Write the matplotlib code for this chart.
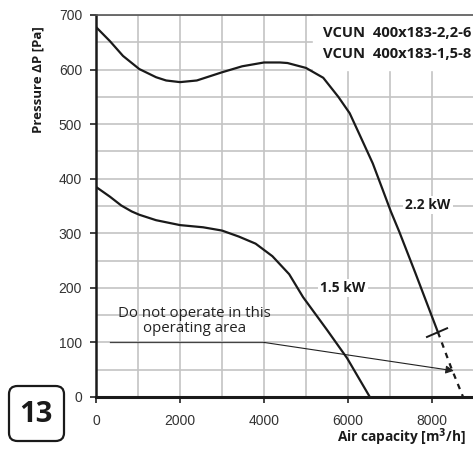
import numpy as np
import matplotlib
matplotlib.use("Agg")
from matplotlib import pyplot as plt
from matplotlib.patches import FancyBboxPatch

# curve 2.2 kW
q22 = [0, 333, 643, 1030, 1430, 1670, 2000, 2400, 3000, 3480, 4000, 4380, 4560,
       5000, 5410, 5770, 6040, 6280, 6590, 6830, 7020, 7220, 7600, 8140]
p22 = [678, 652, 625, 601, 586, 580, 577, 580, 595, 606, 613, 613, 612,
       603, 585, 550, 520, 480, 428, 379, 340, 303, 228, 119]
q22_dash = [8140, 8450, 8740]
p22_dash = [119, 55, 0]

# curve 1.5 kW
q15 = [0, 333, 600, 850, 1030, 1430, 2000, 2550, 3000, 3400, 3800, 4200, 4600, 4930,
       5500, 5980, 6520]
p15 = [385, 367, 351, 340, 334, 324, 315, 311, 305, 294, 281, 258, 225, 183,
       123, 71, 0]

# "do not operate" arrow
arrow_q = [330, 4000, 8520]
arrow_p = [100, 100, 48]

# cross on 2.2 kW curve
cross_q = [7880, 8360]
cross_p = [110, 126]

xticks = [0, 2000, 4000, 6000, 8000]
yticks = [0, 100, 200, 300, 400, 500, 600, 700]
models = ["VCUN  400x183-2,2-6", "VCUN  400x183-1,5-8"]

fig = plt.figure(figsize=(4.73, 4.49), dpi=100)
ax = fig.add_axes([96/473, 1-397/449, 378/473, 382/449])

ax.set_xlim(0, 9000)
ax.set_ylim(0, 700)
ax.set_xticks(np.arange(0, 9001, 1000), minor=True)
ax.set_yticks(np.arange(0, 701, 50), minor=True)
ax.set_xticks(xticks)
ax.set_yticks(yticks)
ax.grid(which="both", color="#c4c4c4", lw=1.2, zorder=0)
ax.set_axisbelow(True)

for lab in ax.get_xticklabels() + ax.get_yticklabels():
    lab.set_family("Liberation Sans")
    lab.set_fontsize(10)
    lab.set_color("#333333")
ax.tick_params(which="major", length=4, width=1.2, color="#222222", pad=6)
ax.tick_params(which="minor", length=0)
ax.tick_params(axis="x", pad=8)

ax.spines["left"].set_linewidth(1.8)
ax.spines["bottom"].set_linewidth(2.2)
ax.spines["left"].set_color("#1a1a1a")
ax.spines["bottom"].set_color("#1a1a1a")
ax.spines["top"].set_color("#555555")
ax.spines["top"].set_linewidth(1.2)
ax.spines["right"].set_visible(False)

# white box behind model names
ax.fill_between([5170, 9000], 600, 700, color="white", zorder=1)
ax.text(8930, 667, models[0], ha="right", va="center", fontsize=10.6,
        fontweight="bold", family="Open Sans", color="#1a1a1a", zorder=5)
ax.text(8930, 629, models[1], ha="right", va="center", fontsize=10.6,
        fontweight="bold", family="Open Sans", color="#1a1a1a", zorder=5)

ax.plot(q22, p22, color="#1a1a1a", lw=1.6, zorder=3, solid_joinstyle="round")
ax.plot(q22_dash, p22_dash, color="#1a1a1a", lw=1.6, ls=(0, (2.5, 2.5)), zorder=3)
ax.plot(q15, p15, color="#1a1a1a", lw=1.6, zorder=3, solid_joinstyle="round")
ax.plot(cross_q, cross_p, color="#1a1a1a", lw=1.4, zorder=3)

ax.plot(arrow_q[:2], arrow_p[:2], color="#444444", lw=0.9, zorder=2)
ax.annotate("", xy=(arrow_q[2], arrow_p[2]), xytext=(arrow_q[1], arrow_p[1]),
            arrowprops=dict(arrowstyle="-|>", color="#222222", lw=0.8,
                            mutation_scale=12, shrinkA=0, shrinkB=0), zorder=2)
ax.text(2350, 140, "Do not operate in this\noperating area", ha="center", va="center",
        fontsize=10.8, family="Open Sans", color="#222222", linespacing=1.0, zorder=4)

ax.text(7900, 352, "2.2 kW", ha="center", va="center", fontsize=10, fontweight="bold",
        family="Open Sans", color="#1a1a1a", zorder=4,
        bbox=dict(facecolor="white", edgecolor="none", pad=1.5))
ax.text(5880, 200, "1.5 kW", ha="center", va="center", fontsize=10, fontweight="bold",
        family="Open Sans", color="#1a1a1a", zorder=4,
        bbox=dict(facecolor="white", edgecolor="none", pad=1.5))

fig.text(38/473, 1-80/449, "Pressure ΔP [Pa]", rotation=90, ha="center", va="center",
         fontsize=9.5, fontweight="bold", family="Open Sans", color="#1a1a1a")
fig.text(466/473, 1-437/449, "Air capacity [m$^\\mathbf{3}$/h]", ha="right", va="center",
         fontsize=9.8, fontweight="bold", family="Open Sans", color="#1a1a1a")

# badge "13"
badge = FancyBboxPatch((9/473, 1-441/449), 55/473, 55/449, transform=fig.transFigure,
                       boxstyle="round,pad=0,rounding_size=0.018", fc="white",
                       ec="#1a1a1a", lw=1.6)
fig.patches.append(badge)
fig.text(36/473, 1-414/449, "13", ha="center", va="center", fontsize=21,
         fontweight="bold", family="Open Sans", color="#1a1a1a")

fig.savefig("out.png", dpi=100)
